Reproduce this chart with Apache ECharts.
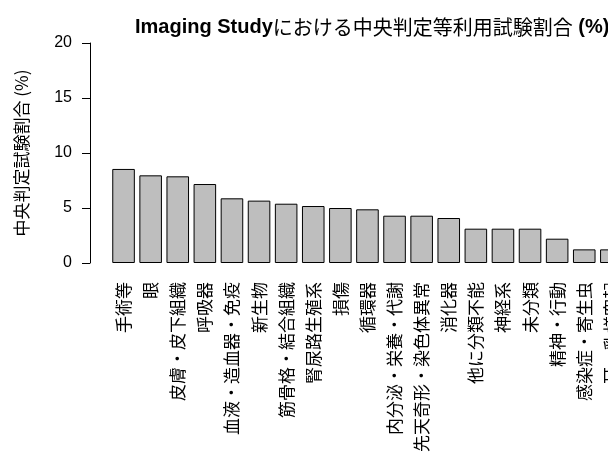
<!DOCTYPE html>
<html>
<head>
<meta charset="utf-8">
<script src="https://cdn.jsdelivr.net/npm/echarts@6/dist/echarts.min.js"></script>
<style>html,body{margin:0;padding:0;background:#fff;overflow:hidden;width:608px;height:458px;}#c{width:720px;height:458px;}</style>
</head>
<body>
<div id="c"></div>
<script>
const categories = ["手術等","眼","皮膚・皮下組織","呼吸器","血液・造血器・免疫","新生物","筋骨格・結合組織","腎尿路生殖系","損傷","循環器","内分泌・栄養・代謝","先天奇形・染色体異常","消化器","他に分類不能","神経系","未分類","精神・行動","感染症・寄生虫","耳・乳様突起"];
const values = [8.55, 7.97, 7.88, 7.18, 5.88, 5.67, 5.39, 5.18, 5.0, 4.88, 4.3, 4.3, 4.09, 3.12, 3.12, 3.12, 2.21, 1.24, 1.24];
const yTicks = [0, 5, 10, 15, 20];

const chart = echarts.init(document.getElementById('c'), null, {renderer: 'canvas'});
chart.setOption({
  animation: false,
  backgroundColor: '#fff',
  title: {
    left: 130, top: 12,
    text: '{b|Imaging Study}{n|における中央判定等利用試験割合}{b| (%)}',
    textStyle: {
      rich: {
        b: {fontFamily: 'Liberation Sans, Arial', fontWeight: 'bold', fontSize: 20, color: '#000'},
        n: {fontFamily: 'Noto Sans CJK JP', fontWeight: 'normal', fontSize: 20, color: '#000'}
      }
    }
  },
  grid: {left: 110, top: 43, bottom: 195, width: 27.1 * categories.length, containLabel: false},
  xAxis: {
    type: 'category',
    data: categories,
    axisLine: {show: false},
    axisTick: {show: false},
    axisLabel: {
      rotate: 90, interval: 0, margin: 19,
      fontFamily: 'Noto Sans CJK JP', fontSize: 17, color: '#000'
    }
  },
  yAxis: {
    type: 'value', min: 0, max: 20, interval: 5,
    offset: 20,
    name: '中央判定試験割合 (%)',
    nameLocation: 'middle', nameGap: 60,
    nameTextStyle: {fontFamily: 'Noto Sans CJK JP', fontSize: 17, color: '#000'},
    axisLine: {show: true, lineStyle: {color: '#000', width: 1}},
    axisTick: {show: true, length: 8, lineStyle: {color: '#000'}},
    splitLine: {show: false},
    axisLabel: {
      margin: 18, fontFamily: 'Liberation Sans, Arial', fontSize: 16, color: '#000',
      formatter: v => yTicks.includes(v) ? String(v) : ''
    }
  },
  series: [{
    type: 'bar',
    data: values,
    barWidth: '83.3%',
    itemStyle: {color: '#BEBEBE', borderColor: '#000', borderWidth: 1}
  }]
});
</script>
</body>
</html>
